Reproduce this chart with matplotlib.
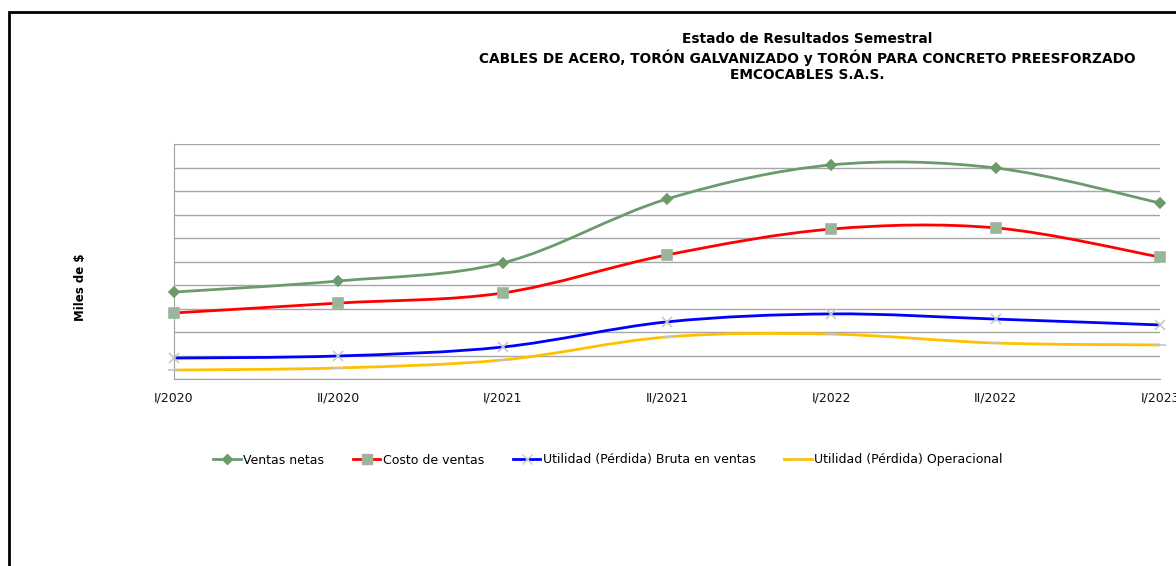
import matplotlib
matplotlib.use("Agg")
import matplotlib.pyplot as plt
from matplotlib.path import Path
from matplotlib.patches import PathPatch, Rectangle
from matplotlib.lines import Line2D

# Data (Miles de $ in grid units)
periods = ["I/2020", "II/2020", "I/2021", "II/2021", "I/2022", "II/2022", "I/2023"]
ventas_netas = [3.70, 4.17, 4.94, 7.66, 9.11, 8.98, 7.49]
costo_ventas = [2.81, 3.23, 3.66, 5.28, 6.38, 6.43, 5.19]
utilidad_bruta = [0.89, 0.98, 1.36, 2.43, 2.77, 2.55, 2.30]
utilidad_operacional = [0.38, 0.47, 0.81, 1.79, 1.91, 1.53, 1.45]


def smooth_path(xs, ys):
    # Excel-style smoothed line as cubic bezier segments
    pts = list(zip(xs, ys))
    n = len(pts)
    verts = [pts[0]]
    codes = [Path.MOVETO]
    for i in range(n - 1):
        p0 = pts[i - 1] if i > 0 else pts[i]
        p1 = pts[i]
        p2 = pts[i + 1]
        p3 = pts[i + 2] if i + 2 < n else pts[i + 1]
        c1 = (p1[0] + (p2[0] - p0[0]) / 6, p1[1] + (p2[1] - p0[1]) / 6)
        c2 = (p2[0] - (p3[0] - p1[0]) / 6, p2[1] - (p3[1] - p1[1]) / 6)
        verts += [c1, c2, p2]
        codes += [Path.CURVE4] * 3
    return Path(verts, codes)


fig = plt.figure(figsize=(11.76, 5.66), dpi=100)
ax = fig.add_axes([174 / 1176, 1 - 379 / 566, 986 / 1176, 235 / 566])

series = [
    ("Ventas netas", ventas_netas, "#6b9a6b", "D", "#6b9a6b", 5),
    ("Costo de ventas", costo_ventas, "#ff0000", "s", "#9bb59b", 7),
    ("Utilidad (Pérdida) Bruta en ventas", utilidad_bruta, "#0000ff", "x", "#c8c8c8", 7),
    ("Utilidad (Pérdida) Operacional", utilidad_operacional, "#ffc000", "_", "#b4c8d8", 8),
]

x = list(range(len(periods)))
handles = []
for name, vals, col, mk, mcol, ms in series:
    ax.add_patch(PathPatch(smooth_path(x, vals), facecolor="none", edgecolor=col, lw=2.0, zorder=3))
    ax.plot(x, vals, linestyle="none", marker=mk, color=mcol, markersize=ms,
            markeredgecolor=mcol, markeredgewidth=1.2, zorder=4, clip_on=False)
    handles.append(Line2D([], [], color=col, lw=2.0, marker=mk, markersize=ms,
                          markerfacecolor=mcol, markeredgecolor=mcol, label=name))

ax.set_xlim(0, len(periods) - 1)
ax.set_ylim(0, 10)
ax.set_yticks(range(0, 11))
ax.set_yticklabels([])
ax.tick_params(axis="y", length=0)
ax.set_xticks(x)
ax.set_xticklabels(periods, fontsize=9, color="#111111")
ax.tick_params(axis="x", length=0, pad=9)
ax.grid(axis="y", color="#a6a6a6", lw=1)
ax.set_axisbelow(True)
for s in ["top", "right"]:
    ax.spines[s].set_visible(False)
for s in ["left", "bottom"]:
    ax.spines[s].set_color("#a0a0a0")

ax.set_ylabel("Miles de $", fontsize=8.5, fontweight="bold")
ax.yaxis.set_label_coords(-(174 - 87) / 986, 0.39)

fig.text(807 / 1176, 1 - 57 / 566, "Estado de Resultados Semestral\n"
         "CABLES DE ACERO, TORÓN GALVANIZADO y TORÓN PARA CONCRETO PREESFORZADO\n"
         "EMCOCABLES S.A.S.", ha="center", va="center", fontsize=9.9,
         fontweight="bold", linespacing=1.2)

fig.legend(handles=handles, loc="center", bbox_to_anchor=(608 / 1176, 1 - 460 / 566),
           ncol=4, frameon=False, fontsize=9, handlelength=2.2, columnspacing=2.3,
           handletextpad=0.2)

# outer chart frame
fig.add_artist(Rectangle((9 / 1176, -0.1), 1.2, 1 - 12 / 566 + 0.1,
                         transform=fig.transFigure, fill=False, ec="black", lw=2))

plt.savefig("out.png", dpi=100)
